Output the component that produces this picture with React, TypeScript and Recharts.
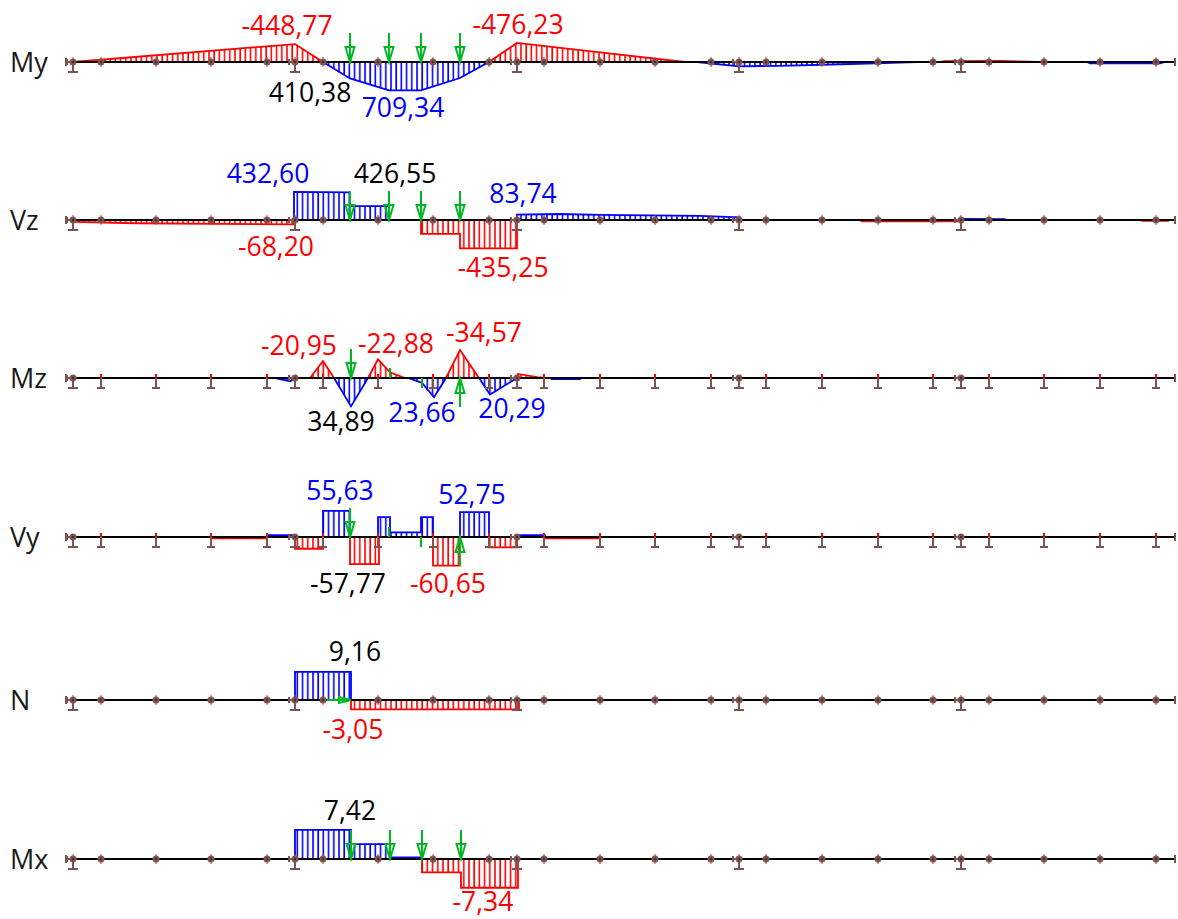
import { Area, ComposedChart, Line, Scatter, XAxis, YAxis } from "recharts"

const RED = "#ff0000"
const BLUE = "#0000ff"
const GREEN = "#00b822"
const BROWN = "#7d5550"
const FONT = "'Open Sans', sans-serif"

type Pt = [number, number]

// stations along the beam
const stations = [73, 101, 156, 211, 267, 295, 323, 378, 433, 489, 517, 544, 600, 655, 711, 739, 766, 822, 878, 933, 961, 989, 1044, 1100, 1156]
const supports = [73, 295, 517, 739, 961]
const beamEnds = [66, 1175]

const myRed: Pt[] = [[73, 0], [295, -448.77], [323, 0], [489, 0], [517, -476.23], [600, -240], [685, 0], [940, 0], [945, -20], [1000, -28], [1030, -8], [1035, 0]]
const myBlue: Pt[] = [[323, 0], [350, 410.38], [389, 709.34], [421, 709.34], [460, 400], [489, 0], [697, 0], [739, 110], [790, 90], [850, 50], [917, 0], [1087, 0], [1090, 35], [1160, 35], [1165, 0]]

const vzRed: Pt[] = [[73, 0], [73, -30], [135, -50], [294, -68.2], [294, 0], [421, 0], [421, -215], [460, -215], [460, -435.25], [517, -435.25], [517, 0], [860, 0], [862, -20], [960, -20], [960, 0], [1140, 0], [1142, -12], [1168, -12], [1170, 0]]
const vzBlue: Pt[] = [[294, 0], [294, 432.6], [350, 426.55], [350, 215], [389, 215], [389, 0], [517, 0], [517, 83.74], [560, 92], [600, 80], [700, 62], [740, 40], [741, 0], [960, 0], [962, 18], [1005, 14], [1006, 0]]

const mzRed: Pt[] = [[310, 0], [323, -20.95], [334, 0], [368, 0], [378, -22.88], [390, -7], [405, 0], [446, 0], [460, -34.57], [479, 0], [517, 0], [518, -5], [537, -1], [545, 0]]
const mzBlue: Pt[] = [[275, 0], [290, 4], [296, 0], [334, 0], [351, 34.89], [368, 0], [408, 0], [422, 6], [434, 23.66], [446, 0], [479, 0], [490, 20.29], [517, 0], [550, 0], [552, 1.5], [580, 1.5], [581, 0]]

const vyRed: Pt[] = [[212, 0], [212, -3], [267, -3], [267, 0], [295, 0], [295, -25], [323, -25], [323, 0], [350, 0], [350, -57.77], [379, -57.77], [379, 0], [433, 0], [433, -60.65], [460, -60.65], [460, 0], [489, 0], [489, -22], [517, -22], [517, 0], [545, 0], [545, -3], [600, -3], [600, 0]]
const vyBlue: Pt[] = [[267, 0], [267, 4], [295, 4], [295, 0], [323, 0], [323, 55.63], [350, 55.63], [350, 0], [378, 0], [378, 42], [390, 42], [390, 10], [421, 10], [421, 42], [433, 42], [433, 0], [460, 0], [460, 52.75], [489, 52.75], [489, 0], [517, 0], [517, 4], [545, 4], [545, 0]]

const nRed: Pt[] = [[351, 0], [351, -3.05], [519, -3.05], [519, 0]]
const nBlue: Pt[] = [[295, 0], [295, 9.16], [351, 9.16], [351, 0]]

const mxRed: Pt[] = [[422, 0], [422, -3.4], [461, -3.4], [461, -7.34], [518, -7.34], [518, 0]]
const mxBlue: Pt[] = [[295, 0], [295, 7.42], [351, 7.42], [351, 3.8], [390, 3.8], [390, 0.4], [422, 0.4], [422, 0]]

type Note = { x: number; v: number; color: string; dy: number }

const myNotes: Note[] = [
  { x: 287, v: -448.77, color: RED, dy: -19 },
  { x: 518, v: -476.23, color: RED, dy: -19 },
  { x: 310, v: 410.38, color: "#000", dy: 14 },
  { x: 403, v: 709.34, color: BLUE, dy: 17 },
]
const vzNotes: Note[] = [
  { x: 268, v: 432.6, color: BLUE, dy: -19 },
  { x: 395, v: 426.55, color: "#000", dy: -19 },
  { x: 523, v: 83.74, color: BLUE, dy: -22 },
  { x: 276, v: -68.2, color: RED, dy: 22 },
  { x: 503, v: -435.25, color: RED, dy: 19 },
]
const mzNotes: Note[] = [
  { x: 299, v: -20.95, color: RED, dy: -16 },
  { x: 396, v: -22.88, color: RED, dy: -16 },
  { x: 484, v: -34.57, color: RED, dy: -18 },
  { x: 341, v: 34.89, color: "#000", dy: 15 },
  { x: 422, v: 23.66, color: BLUE, dy: 15 },
  { x: 512, v: 20.29, color: BLUE, dy: 14 },
]
const vyNotes: Note[] = [
  { x: 340, v: 55.63, color: BLUE, dy: -21 },
  { x: 472, v: 52.75, color: BLUE, dy: -18 },
  { x: 348, v: -57.77, color: "#000", dy: 19 },
  { x: 448, v: -60.65, color: RED, dy: 17 },
]
const nNotes: Note[] = [
  { x: 355, v: 9.16, color: "#000", dy: -21 },
  { x: 353, v: -3.05, color: RED, dy: 20 },
]
const mxNotes: Note[] = [
  { x: 350, v: 7.42, color: "#000", dy: -20 },
  { x: 483, v: -7.34, color: RED, dy: 13 },
]

type Load = { x: number; kind: string }

const downLoads: Load[] = [
  { x: 350, kind: "down" },
  { x: 389, kind: "down" },
  { x: 421, kind: "down" },
  { x: 460, kind: "down" },
]
const mxLoads: Load[] = [
  { x: 351, kind: "down" },
  { x: 390, kind: "down" },
  { x: 422, kind: "down" },
  { x: 461, kind: "down" },
]
const mzLoads: Load[] = [
  { x: 351, kind: "down" },
  { x: 390, kind: "stubUp" },
  { x: 422, kind: "stubDown" },
  { x: 460, kind: "up" },
]
const vyLoads: Load[] = [
  { x: 350, kind: "down" },
  { x: 389, kind: "stubUp" },
  { x: 421, kind: "stubDown" },
  { x: 460, kind: "up" },
]
const nLoads: Load[] = [{ x: 351, kind: "right" }]

const CHART_H = 170

const toRows = (pts: Pt[]) => pts.map(([x, v]) => ({ x, v }))

function LoadMark(props: any) {
  const { cx, cy, payload } = props
  const kind = payload.kind
  const p = { stroke: GREEN, strokeWidth: 2, fill: "none" }
  if (kind === "down")
    return (
      <g {...p}>
        <line x1={cx} y1={cy - 29} x2={cx} y2={cy} />
        <path d={`M${cx - 4.5} ${cy - 15}L${cx + 4.5} ${cy - 15}L${cx} ${cy}Z`} />
      </g>
    )
  if (kind === "up")
    return (
      <g {...p}>
        <line x1={cx} y1={cy + 29} x2={cx} y2={cy} />
        <path d={`M${cx - 4.5} ${cy + 15}L${cx + 4.5} ${cy + 15}L${cx} ${cy}Z`} />
      </g>
    )
  if (kind === "right")
    return (
      <g {...p}>
        <line x1={cx - 24} y1={cy} x2={cx} y2={cy} />
        <path d={`M${cx - 12} ${cy - 3}L${cx - 12} ${cy + 3}L${cx} ${cy}Z`} />
      </g>
    )
  if (kind === "stubUp") return <line {...p} x1={cx} y1={cy - 10} x2={cx} y2={cy} />
  return <line {...p} x1={cx} y1={cy} x2={cx} y2={cy + 10} />
}

function Support({ cx, cy, wide }: { cx: number; cy: number; wide: boolean }) {
  const half = wide ? 5 : 4
  return (
    <g stroke={BROWN} strokeWidth={2}>
      <line x1={cx} y1={cy} x2={cx} y2={cy + 10} />
      <line x1={cx - half} y1={cy + 10} x2={cx + half} y2={cy + 10} />
    </g>
  )
}

function makeNodeMark(flagged: boolean) {
  return function NodeMark(props: any) {
    const { cx, cy, payload } = props
    const isSupport = supports.includes(payload.x)
    if (flagged && !isSupport) {
      return (
        <g>
          <line x1={cx} y1={cy - 4} x2={cx} y2={cy} stroke={RED} strokeWidth={2} />
          <Support cx={cx} cy={cy} wide={false} />
        </g>
      )
    }
    return (
      <g>
        {!flagged && <line x1={cx} y1={cy - 5} x2={cx} y2={cy + 5} stroke="#c0392b" strokeWidth={1} />}
        {isSupport && <Support cx={cx} cy={cy} wide />}
        {isSupport && (
          <g stroke={BROWN} strokeWidth={2}>
            <line x1={cx - 6} y1={cy} x2={cx} y2={cy} />
            <line x1={cx - 6} y1={cy - 3} x2={cx - 6} y2={cy + 3} />
          </g>
        )}
        <circle cx={cx} cy={cy} r={3.5} fill={BROWN} />
        <circle cx={cx} cy={cy} r={1.2} fill="#4a2f2c" />
      </g>
    )
  }
}

function EndMark(props: any) {
  const { cx, cy } = props
  return <line x1={cx} y1={cy - 4} x2={cx} y2={cy + 4} stroke={BROWN} strokeWidth={2} />
}

function NoteMark(props: any) {
  const { cx, cy, payload } = props
  return (
    <text x={cx} y={cy + payload.dy} textAnchor="middle" dominantBaseline="central" fontFamily={FONT} fontSize={26.5} fill={payload.color}>
      {payload.v.toFixed(2).replace(".", ",")}
    </text>
  )
}

type RowProps = {
  name: string
  baseline: number
  limit: number
  reversed?: boolean
  flagged?: boolean
  red: Pt[]
  blue: Pt[]
  notes: Note[]
  loads: Load[]
}

function Row({ name, baseline, limit, reversed, flagged, red, blue, notes, loads }: RowProps) {
  const nodeRows = stations.map((x) => ({ x, v: 0 }))
  const beamRows = beamEnds.map((x) => ({ x, v: 0 }))
  const loadRows = loads.map((l) => ({ ...l, v: 0 }))
  return (
    <div style={{ position: "absolute", left: 0, top: baseline - CHART_H / 2 }}>
      <ComposedChart width={1178} height={CHART_H} margin={{ top: 0, right: 0, bottom: 0, left: 0 }}>
        <defs>
          <pattern id="hatchRed" patternUnits="userSpaceOnUse" width={5.2} height={10}>
            <line x1={1} y1={0} x2={1} y2={10} stroke={RED} strokeWidth={1.6} />
          </pattern>
          <pattern id="hatchBlue" patternUnits="userSpaceOnUse" width={5.2} height={10}>
            <line x1={1} y1={0} x2={1} y2={10} stroke={BLUE} strokeWidth={1.6} />
          </pattern>
        </defs>
        <XAxis dataKey="x" type="number" domain={[0, 1178]} hide />
        <YAxis dataKey="v" type="number" domain={[-limit, limit]} reversed={reversed} hide />
        <Area data={toRows(red)} dataKey="v" type="linear" stroke={RED} strokeWidth={1.8} fill="url(#hatchRed)" fillOpacity={1} dot={false} activeDot={false} isAnimationActive={false} />
        <Area data={toRows(blue)} dataKey="v" type="linear" stroke={BLUE} strokeWidth={1.8} fill="url(#hatchBlue)" fillOpacity={1} dot={false} activeDot={false} isAnimationActive={false} />
        <Line data={beamRows} dataKey="v" type="linear" stroke="#000" strokeWidth={2} dot={false} activeDot={false} isAnimationActive={false} />
        <Scatter data={beamRows} dataKey="v" shape={EndMark} isAnimationActive={false} />
        <Scatter data={nodeRows} dataKey="v" shape={makeNodeMark(!!flagged)} isAnimationActive={false} />
        <Scatter data={loadRows} dataKey="v" shape={LoadMark} isAnimationActive={false} />
        <Scatter data={notes} dataKey="v" shape={NoteMark} isAnimationActive={false} />
        <text x={10} y={CHART_H / 2 - 1} dominantBaseline="central" fontFamily={FONT} fontSize={27} fill="#1a1a1a">
          {name}
        </text>
      </ComposedChart>
    </div>
  )
}

export default function App() {
  return (
    <div style={{ position: "fixed", left: 0, top: 0, width: 1178, height: 919, overflow: "hidden", background: "#fff" }}>
      <Row name="My" baseline={62} limit={2125} reversed red={myRed} blue={myBlue} notes={myNotes} loads={downLoads} />
      <Row name="Vz" baseline={220} limit={1308} red={vzRed} blue={vzBlue} notes={vzNotes} loads={downLoads} />
      <Row name="Mz" baseline={378} limit={104.6} reversed flagged red={mzRed} blue={mzBlue} notes={mzNotes} loads={mzLoads} />
      <Row name="Vy" baseline={537} limit={180.5} flagged red={vyRed} blue={vyBlue} notes={vyNotes} loads={vyLoads} />
      <Row name="N" baseline={700} limit={27.7} red={nRed} blue={nBlue} notes={nNotes} loads={nLoads} />
      <Row name="Mx" baseline={859} limit={21.7} red={mxRed} blue={mxBlue} notes={mxNotes} loads={mxLoads} />
    </div>
  )
}
